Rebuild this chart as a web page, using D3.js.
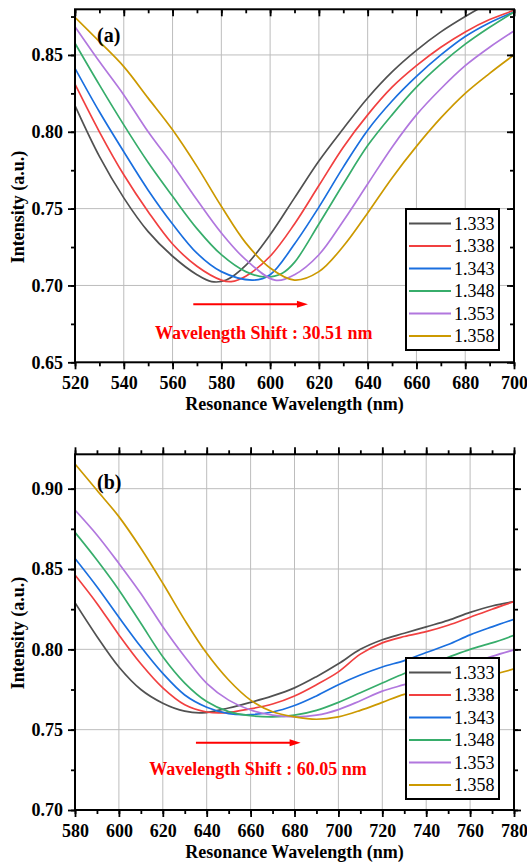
<!DOCTYPE html>
<html>
<head>
<meta charset="utf-8">
<script src="https://cdn.jsdelivr.net/npm/d3@7"></script>
<style>
  body { margin: 0; background: #fff; }
  svg text { font-family: "Liberation Serif", "Times New Roman", "DejaVu Serif", serif; }
</style>
</head>
<body>
<div id="chart"></div>
<script>
// refractive index of each curve
const riLabels = ["1.333", "1.338", "1.343", "1.348", "1.353", "1.358"];
const colors = ["#515151", "#F14040", "#1A6FDF", "#37AD6B", "#B177DE", "#CC9900"];

// panel (a): [wavelength nm, intensity]
const a1333 = [[520,.817],[530,.784],[540,.757],[550,.735],[560,.719],[570,.707],[576,.7025],[582,.7035],[590,.713],[600,.733],[610,.757],[620,.781],[630,.802],[640,.822],[650,.839],[660,.853],[670,.865],[680,.875],[690,.884],[700,.892]];
const a1338 = [[520,.831],[530,.800],[540,.772],[550,.748],[560,.727],[570,.7125],[580,.7035],[584,.7025],[590,.706],[600,.719],[610,.740],[620,.765],[630,.790],[640,.811],[650,.829],[660,.843],[670,.855],[680,.865],[690,.873],[700,.879]];
const a1343 = [[520,.8413],[530,.813],[540,.787],[550,.762],[560,.740],[570,.721],[580,.709],[593,.7035],[600,.707],[610,.727],[620,.751],[630,.777],[640,.801],[650,.820],[660,.836],[670,.850],[680,.862],[690,.871],[700,.878]];
const a1348 = [[520,.8576],[530,.8305],[540,.8045],[550,.780],[560,.758],[570,.737],[580,.720],[590,.709],[598,.7055],[605,.708],[610,.715],[620,.740],[630,.766],[640,.791],[650,.811],[660,.829],[670,.844],[680,.857],[690,.868],[700,.878]];
const a1353 = [[520,.8684],[530,.8457],[540,.824],[550,.800],[560,.7786],[570,.7558],[580,.7342],[590,.7168],[602,.7035],[610,.707],[620,.720],[630,.742],[640,.766],[650,.790],[660,.811],[670,.828],[680,.843],[690,.855],[700,.8656]];
const a1358 = [[520,.8745],[530,.8587],[540,.8424],[550,.8219],[560,.8013],[570,.7775],[580,.7515],[590,.7277],[600,.7114],[610,.7035],[620,.709],[630,.7255],[640,.7472],[650,.770],[660,.7905],[670,.809],[680,.825],[690,.838],[700,.850]];

// panel (b)
const b1333 = [[580,.829],[590,.808],[600,.789],[610,.775],[620,.7665],[630,.7615],[638,.7605],[650,.7635],[660,.767],[670,.771],[680,.776],[690,.783],[700,.791],[710,.800],[720,.806],[730,.810],[740,.814],[750,.818],[760,.823],[770,.827],[780,.8297]];
const b1338 = [[580,.8463],[590,.8286],[600,.809],[610,.791],[620,.776],[630,.7655],[640,.761],[648,.7605],[660,.763],[670,.766],[680,.771],[690,.778],[700,.786],[710,.797],[720,.804],[730,.808],[740,.811],[750,.815],[760,.820],[770,.825],[780,.8297]];
const b1343 = [[580,.8566],[590,.839],[600,.820],[610,.8016],[620,.785],[630,.7716],[640,.764],[650,.760],[658,.7593],[670,.761],[680,.765],[690,.771],[700,.778],[710,.784],[720,.789],[730,.793],[740,.798],[750,.803],[760,.809],[770,.814],[780,.8187]];
const b1348 = [[580,.8728],[590,.8556],[600,.837],[610,.8162],[620,.7954],[630,.779],[640,.7675],[650,.7612],[660,.7587],[670,.758],[680,.759],[690,.762],[700,.767],[710,.773],[720,.779],[730,.785],[740,.790],[750,.795],[760,.800],[770,.804],[780,.8087]];
const b1353 = [[580,.8867],[590,.8712],[600,.8535],[610,.8348],[620,.8141],[630,.7954],[640,.7788],[650,.7684],[660,.7622],[670,.759],[680,.758],[690,.759],[700,.7625],[710,.768],[720,.774],[730,.778],[740,.782],[750,.786],[760,.791],[770,.7956],[780,.7997]];
const b1358 = [[580,.9154],[590,.899],[600,.8826],[610,.8629],[620,.8411],[630,.8182],[640,.7975],[650,.7809],[660,.7684],[670,.7612],[680,.758],[690,.7565],[700,.758],[710,.762],[720,.767],[730,.772],[740,.775],[750,.777],[760,.780],[770,.784],[780,.7878]];

// tick values
const xMajorA = [520, 540, 560, 580, 600, 620, 640, 660, 680, 700];
const xMajorB = [580, 600, 620, 640, 660, 680, 700, 720, 740, 760, 780];
const yMajorA = [0.65, 0.70, 0.75, 0.80, 0.85];
const yMajorB = [0.70, 0.75, 0.80, 0.85, 0.90];

const width = 527, height = 864;
const left = 75, right = 514;
const serif = "'Liberation Serif', 'Times New Roman', 'DejaVu Serif', serif";

const svg = d3.select("#chart")
  .append("svg")
    .attr("width", width)
    .attr("height", height);

function styleText(sel, size, weight) {
  sel.attr("font-family", serif)
     .attr("font-size", size)
     .attr("font-weight", weight)
     .attr("fill", "#000");
}

function drawPanel(p) {
  const x = d3.scaleLinear().domain(p.xDomain).range([left, right]);
  const y = d3.scaleLinear().domain(p.yDomain).range([p.bottom, p.top]);
  const g = svg.append("g");

  // grid lines at interior major ticks
  g.append("g").selectAll("line")
    .data(p.xMajor.filter(d => d > p.xDomain[0] && d < p.xDomain[1]))
    .join("line")
      .attr("x1", d => x(d)).attr("x2", d => x(d))
      .attr("y1", p.top).attr("y2", p.bottom)
      .attr("stroke", "#bdbdbd").attr("stroke-width", 1);
  g.append("g").selectAll("line")
    .data(p.yMajor.filter(d => d > p.yDomain[0] && d < p.yDomain[1]))
    .join("line")
      .attr("x1", left).attr("x2", right)
      .attr("y1", d => y(d)).attr("y2", d => y(d))
      .attr("stroke", "#bdbdbd").attr("stroke-width", 1);

  // curves, clipped to the frame
  g.append("clipPath").attr("id", "clip-" + p.name)
    .append("rect")
      .attr("x", left).attr("y", p.top)
      .attr("width", right - left).attr("height", p.bottom - p.top);

  const line = d3.line()
    .x(d => x(d[0]))
    .y(d => y(d[1]))
    .curve(d3.curveCatmullRom.alpha(0.5));

  g.append("g").attr("clip-path", `url(#clip-${p.name})`)
    .selectAll("path")
    .data(p.series)
    .join("path")
      .attr("d", line)
      .attr("fill", "none")
      .attr("stroke", (d, i) => colors[i])
      .attr("stroke-width", 1.7);

  // axes
  const xMinor = d3.range(p.xDomain[0], p.xDomain[1] + 1, 10);
  const yMinor = d3.range(p.yDomain[0], p.yDomain[1] + 0.001, 0.025);

  const axes = [
    [d3.axisBottom(x).tickValues(p.xMajor).tickSize(7).tickPadding(7).tickFormat(d3.format("d")), `translate(0,${p.bottom})`],
    [d3.axisBottom(x).tickValues(xMinor).tickSize(4).tickFormat(""), `translate(0,${p.bottom})`],
    [d3.axisLeft(y).tickValues(p.yMajor).tickSize(7).tickPadding(5).tickFormat(d3.format(".2f")), `translate(${left},0)`],
    [d3.axisLeft(y).tickValues(yMinor).tickSize(4).tickFormat(""), `translate(${left},0)`],
    [(p.inward ? d3.axisBottom(x) : d3.axisTop(x)).tickValues(p.xMajor).tickSize(7).tickFormat(""), `translate(0,${p.top})`],
    [(p.inward ? d3.axisBottom(x) : d3.axisTop(x)).tickValues(xMinor).tickSize(4).tickFormat(""), `translate(0,${p.top})`],
    [(p.inward ? d3.axisLeft(y) : d3.axisRight(y)).tickValues(p.yMajor).tickSize(7).tickFormat(""), `translate(${right},0)`],
    [(p.inward ? d3.axisLeft(y) : d3.axisRight(y)).tickValues(yMinor).tickSize(4).tickFormat(""), `translate(${right},0)`]
  ];
  axes.forEach(([ax, tr]) => {
    const a = g.append("g").attr("transform", tr).call(ax.tickSizeOuter(0));
    a.attr("font-family", serif);
    a.select(".domain").remove();
    a.selectAll(".tick line").attr("stroke", "#000").attr("stroke-width", 1.8);
    styleText(a.selectAll("text"), 18, "bold");
  });

  // frame
  g.append("rect")
    .attr("x", left).attr("y", p.top)
    .attr("width", right - left).attr("height", p.bottom - p.top)
    .attr("fill", "none").attr("stroke", "#000").attr("stroke-width", 2);

  // axis titles
  styleText(g.append("text")
    .attr("x", (left + right) / 2).attr("y", p.bottom + 48)
    .attr("text-anchor", "middle")
    .text("Resonance Wavelength (nm)"), 18, "bold");
  styleText(g.append("text")
    .attr("transform", `translate(24,${p.yTitleY}) rotate(-90)`)
    .attr("text-anchor", "middle")
    .text("Intensity (a.u.)"), 18, "bold");

  // panel label
  styleText(g.append("text")
    .attr("x", 97).attr("y", p.top + p.labelDy)
    .text(p.label), 20, "bold");

  // shift arrow and note
  const ax0 = x(p.arrow[0]), ax1 = x(p.arrow[1]), ay = y(p.arrow[2]);
  g.append("line")
    .attr("x1", ax0).attr("x2", ax1 - 6)
    .attr("y1", ay).attr("y2", ay)
    .attr("stroke", "#ff0000").attr("stroke-width", 2);
  g.append("path")
    .attr("d", `M${ax1},${ay} L${ax1 - 11},${ay - 3.5} L${ax1 - 11},${ay + 3.5} Z`)
    .attr("fill", "#ff0000");
  g.append("text")
    .attr("x", x(p.note[0])).attr("y", y(p.note[1]))
    .attr("text-anchor", "middle")
    .attr("font-family", serif)
    .attr("font-size", 18).attr("font-weight", "bold")
    .attr("fill", "#ff0000")
    .text(p.noteText);

  // legend
  const lg = g.append("g").attr("transform", `translate(406,${p.legendTop})`);
  lg.append("rect")
    .attr("width", 93).attr("height", 141)
    .attr("fill", "#fff").attr("stroke", "#000").attr("stroke-width", 2);
  const row = lg.selectAll(".row").data(riLabels).join("g")
    .attr("class", "row")
    .attr("transform", (d, i) => `translate(0,${14.5 + i * 22.5})`);
  row.append("line")
    .attr("x1", 3).attr("x2", 45)
    .attr("stroke", (d, i) => colors[i]).attr("stroke-width", 1.8);
  styleText(row.append("text")
    .attr("x", 48).attr("dy", "0.35em")
    .text(d => d), 18, "normal");
}

drawPanel({
  name: "a", label: "(a)", labelDy: 33,
  top: 9.3, bottom: 362.3,
  xDomain: [520, 700], yDomain: [0.65, 0.8797],
  xMajor: xMajorA, yMajor: yMajorA,
  series: [a1333, a1338, a1343, a1348, a1353, a1358],
  inward: true,
  yTitleY: 207,
  arrow: [568.5, 615.5, 0.6877],
  note: [597.4, 0.6653], noteText: "Wavelength Shift : 30.51 nm",
  legendTop: 209
});

drawPanel({
  name: "b", label: "(b)", labelDy: 35,
  top: 454.3, bottom: 810,
  xDomain: [580, 780], yDomain: [0.70, 0.9214],
  xMajor: xMajorB, yMajor: yMajorB,
  series: [b1333, b1338, b1343, b1348, b1353, b1358],
  inward: false,
  yTitleY: 633,
  arrow: [635.1, 682.8, 0.7419],
  note: [663.4, 0.7219], noteText: "Wavelength Shift : 60.05 nm",
  legendTop: 658
});
</script>
</body>
</html>
